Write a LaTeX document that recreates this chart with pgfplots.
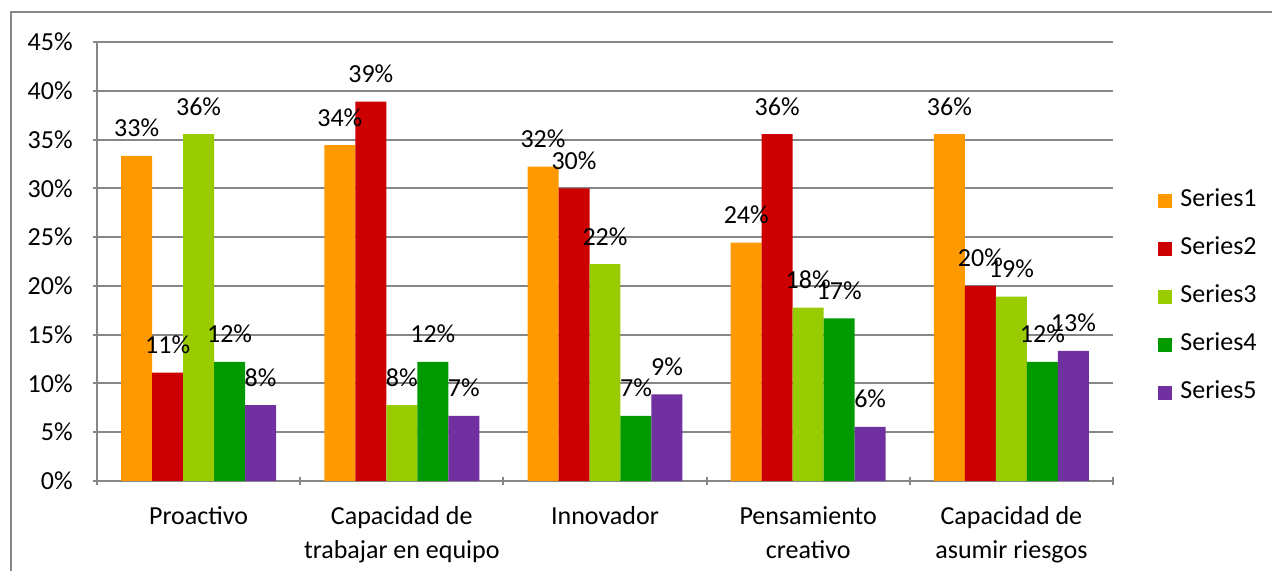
\documentclass[border=0pt]{standalone}
\usepackage{pgfplots}
\pgfplotsset{compat=1.18}
\usepackage{fontspec}
\setmainfont{Carlito}

\definecolor{s1}{RGB}{255,153,0}
\definecolor{s2}{RGB}{204,0,0}
\definecolor{s3}{RGB}{153,204,0}
\definecolor{s4}{RGB}{0,153,0}
\definecolor{s5}{RGB}{112,48,160}
\definecolor{gridgray}{RGB}{134,134,134}

\newcommand{\lbl}{\fontsize{13}{17}\selectfont}

\begin{document}
\begin{tikzpicture}
\begin{axis}[
  scale only axis,
  width=508pt, height=219.5pt,
  ybar=0pt, bar width=0.1525,
  xmin=-0.5, xmax=4.5,
  ymin=0, ymax=45,
  ytick={0,5,...,45},
  yticklabel={\pgfmathprintnumber{\tick}\%},
  /pgf/number format/assume math mode=true,
  xtick={0,1,2,3,4},
  xticklabels={Proactivo,Capacidad de\\trabajar en equipo,Innovador,Pensamiento\\creativo,Capacidad de\\asumir riesgos},
  minor xtick={-0.5,0.5,...,4.5},
  major x tick style={draw=none},
  minor tick length=4pt, major tick length=4pt,
  tick align=outside,
  tick style={gridgray, line width=1pt},
  axis x line=bottom, axis y line=left,
  axis line style={gridgray, line width=1pt, -},
  ymajorgrids, grid style={gridgray, line width=1pt},
  ticklabel style={font=\lbl, text=black},
  xticklabel style={align=center, anchor=north, inner sep=0pt, yshift=-10.5pt},
  yticklabel style={anchor=east, inner sep=0pt, xshift=-10pt},
  nodes near coords={\pgfmathprintnumber[fixed,precision=0]{\pgfplotspointmeta}\%},
  every node near coord/.append style={font=\lbl, text=black, anchor=base, yshift=9.5pt, inner sep=0pt},
  legend style={at={(1.0443,0.4200)}, anchor=west, draw=none, fill=none,
    inner sep=0pt, row sep=12pt, column sep=4pt,
    nodes={font=\lbl, inner sep=0pt, text height=9pt, text depth=3pt}},
  legend image code/.code={\fill[#1] (0pt,-3.5pt) rectangle (7pt,3.5pt);},
  clip=false,
]
\addplot[fill=s1, draw=none] coordinates {(0,33.33) (1,34.44) (2,32.22) (3,24.44) (4,35.56)};
\addplot[fill=s2, draw=none] coordinates {(0,11.11) (1,38.89) (2,30.00) (3,35.56) (4,20.00)};
\addplot[fill=s3, draw=none] coordinates {(0,35.56) (1,7.78) (2,22.22) (3,17.78) (4,18.89)};
\addplot[fill=s4, draw=none] coordinates {(0,12.22) (1,12.22) (2,6.67) (3,16.67) (4,12.22)};
\addplot[fill=s5, draw=none] coordinates {(0,7.78) (1,6.67) (2,8.89) (3,5.56) (4,13.33)};
\legend{Series1,Series2,Series3,Series4,Series5}
\end{axis}
\draw[gridgray, line width=1pt] (-43pt,-45pt) -- (-43pt,234.5pt) -- (587.5pt,234.5pt);
\pgfresetboundingbox
\useasboundingbox (-48.5pt,-45pt) rectangle (587.5pt,240.5pt);
\end{tikzpicture}
\end{document}
